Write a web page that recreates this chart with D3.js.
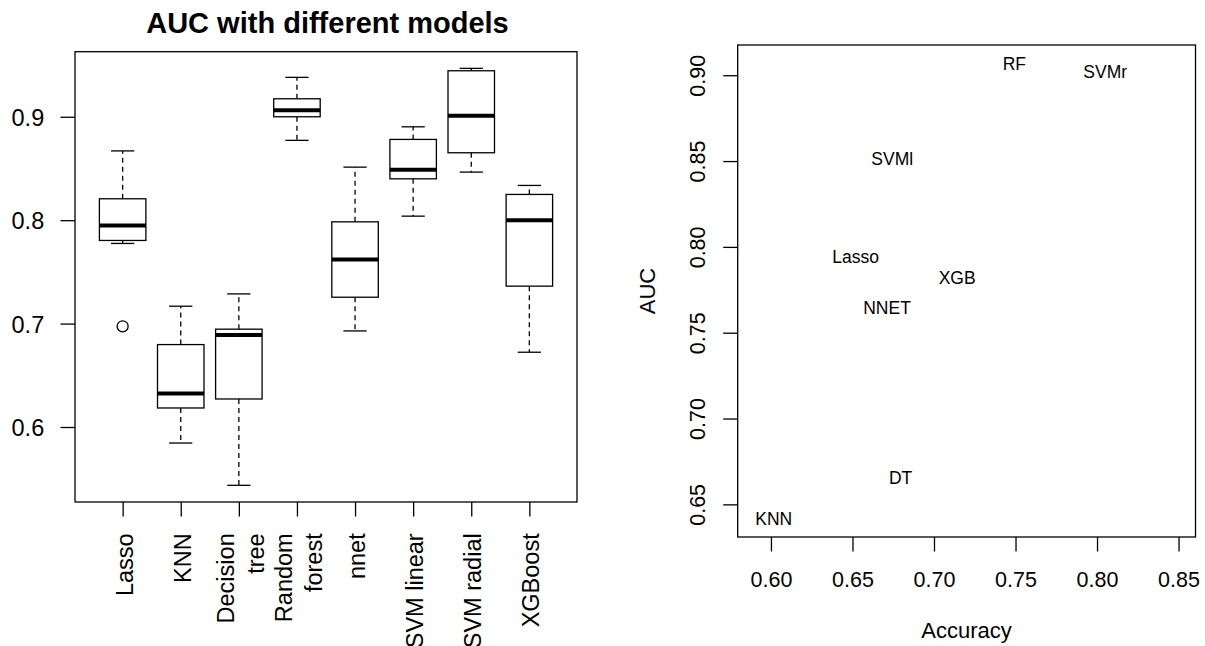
<!DOCTYPE html>
<html><head><meta charset="utf-8">
<script src="https://cdn.jsdelivr.net/npm/d3@7"></script>
<style>
body{margin:0;background:#fff}
svg{display:block}
text{font-family:"Liberation Sans",Arial,Helvetica,sans-serif;fill:#000}
</style>
</head><body>
<svg id="chart" width="1205" height="646"></svg>
<script>
// ---------- Left panel: boxplot data ----------
const models = ["Lasso","KNN","Decision\ntree","Random\nforest","nnet","SVM linear","SVM radial","XGBoost"];
const whiskerLow  = [0.7775, 0.5845, 0.5436, 0.8772, 0.6929, 0.8039, 0.8465, 0.6723];
const q1          = [0.7804, 0.6184, 0.6271, 0.9000, 0.7255, 0.8400, 0.8652, 0.7362];
const medians     = [0.7949, 0.6323, 0.6890, 0.9062, 0.7620, 0.8487, 0.9010, 0.8000];
const q3          = [0.8207, 0.6797, 0.6946, 0.9174, 0.7984, 0.8781, 0.9445, 0.8249];
const whiskerHigh = [0.8670, 0.7168, 0.7287, 0.9381, 0.8513, 0.8903, 0.9468, 0.8336];
const outlierModels = ["Lasso"];
const outlierValues = [0.6974];
const leftYTicks = [0.6, 0.7, 0.8, 0.9];
const leftTitle = "AUC with different models";

// ---------- Right panel: scatter labels ----------
const scatterLabels = ["KNN","Lasso","DT","NNET","SVMl","XGB","RF","SVMr"];
const accuracy = [0.6017, 0.6519, 0.6795, 0.6712, 0.6744, 0.7142, 0.7493, 0.8050];
const auc      = [0.6416, 0.7940, 0.6658, 0.7644, 0.8515, 0.7818, 0.9070, 0.9020];
const accuracyLimits = [0.59, 0.85];
const accuracyTicks = [0.60, 0.65, 0.70, 0.75, 0.80, 0.85];
const aucTicks = [0.65, 0.70, 0.75, 0.80, 0.85, 0.90];
const xLabelRight = "Accuracy";
const yLabelRight = "AUC";

// ---------- helpers ----------
const rExpand = ([a, b]) => { const d = (b - a) * 0.04; return [a - d, b + d]; };
const svg = d3.select("#chart");
const LW = 1.3;

// ================= LEFT PANEL =================
const L = {left: 75, right: 577, top: 51.7, bottom: 502};
const fsL = 23.5;
const xL = d3.scaleLinear().domain(rExpand([0.5, models.length + 0.5])).range([L.left, L.right]);
const yL = d3.scaleLinear()
  .domain(rExpand(d3.extent([...whiskerLow, ...whiskerHigh, ...outlierValues])))
  .range([L.bottom, L.top]);

const gL = svg.append("g");
const unit = xL(1) - xL(0);
const halfBox = 0.4 * unit, halfStaple = 0.2 * unit;

models.forEach((m, i) => {
  const cx = xL(i + 1);
  const g = gL.append("g");
  g.append("line").attr("x1", cx).attr("x2", cx).attr("y1", yL(q3[i])).attr("y2", yL(whiskerHigh[i]))
    .attr("stroke", "#000").attr("stroke-width", LW).attr("stroke-dasharray", "5,4");
  g.append("line").attr("x1", cx).attr("x2", cx).attr("y1", yL(q1[i])).attr("y2", yL(whiskerLow[i]))
    .attr("stroke", "#000").attr("stroke-width", LW).attr("stroke-dasharray", "5,4");
  [whiskerHigh[i], whiskerLow[i]].forEach(v => {
    g.append("line").attr("x1", cx - halfStaple).attr("x2", cx + halfStaple)
      .attr("y1", yL(v)).attr("y2", yL(v)).attr("stroke", "#000").attr("stroke-width", LW);
  });
  g.append("rect").attr("x", cx - halfBox).attr("width", 2 * halfBox)
    .attr("y", yL(q3[i])).attr("height", yL(q1[i]) - yL(q3[i]))
    .attr("fill", "#fff").attr("stroke", "#000").attr("stroke-width", LW);
  g.append("line").attr("x1", cx - halfBox).attr("x2", cx + halfBox)
    .attr("y1", yL(medians[i])).attr("y2", yL(medians[i]))
    .attr("stroke", "#000").attr("stroke-width", 4);
});

outlierModels.forEach((m, k) => {
  const i = models.indexOf(m);
  gL.append("circle").attr("cx", xL(i + 1)).attr("cy", yL(outlierValues[k])).attr("r", 5.5)
    .attr("fill", "none").attr("stroke", "#000").attr("stroke-width", LW);
});

gL.append("rect").attr("x", L.left).attr("y", L.top).attr("width", L.right - L.left).attr("height", L.bottom - L.top)
  .attr("fill", "none").attr("stroke", "#000").attr("stroke-width", LW);

const yAxL = gL.append("g").attr("transform", `translate(${L.left},0)`)
  .call(d3.axisLeft(yL).tickValues(leftYTicks).tickSize(14.5).tickFormat(d3.format(".1f")));
yAxL.select(".domain").remove();
yAxL.selectAll(".tick line").attr("stroke", "#000").attr("stroke-width", LW);
yAxL.selectAll(".tick text").attr("x", -(L.left - 44.2)).attr("dy", null).attr("y", 8.5)
  .attr("font-size", fsL).attr("font-family", '"Liberation Sans",Arial,sans-serif').attr("fill", "#000");

const xAxL = gL.append("g").attr("transform", `translate(0,${L.bottom})`)
  .call(d3.axisBottom(xL).tickValues(models.map((m, i) => i + 1)).tickSize(14.5).tickFormat(""));
xAxL.select(".domain").remove();
xAxL.selectAll(".tick line").attr("stroke", "#000").attr("stroke-width", LW);
xAxL.selectAll(".tick").each(function(d) {
  const lines = models[d - 1].split("\n");
  const lh = 29.4;
  const t = d3.select(this).append("text")
    .attr("transform", `translate(0,31.3) rotate(-90)`)
    .attr("text-anchor", "end").attr("font-size", fsL).attr("fill", "#000");
  lines.forEach((ln, j) => {
    const off = 9.5 + (j - (lines.length - 1) / 2) * lh;
    t.append("tspan").attr("x", 0).attr("y", off).text(ln);
  });
});

gL.append("text").attr("x", (L.left + L.right) / 2 + 1.5).attr("y", 33).attr("text-anchor", "middle")
  .attr("font-size", 29).attr("font-weight", "bold").text(leftTitle);

// ================= RIGHT PANEL =================
const R = {left: 737.7, right: 1195.5, top: 45, bottom: 537};
const fsR = 21.5;
const xR = d3.scaleLinear().domain(rExpand(accuracyLimits)).range([R.left, R.right]);
const yR = d3.scaleLinear().domain(rExpand(d3.extent(auc))).range([R.bottom, R.top]);
const gR = svg.append("g");

gR.append("rect").attr("x", R.left).attr("y", R.top).attr("width", R.right - R.left).attr("height", R.bottom - R.top)
  .attr("fill", "none").attr("stroke", "#000").attr("stroke-width", LW);

const xAxR = gR.append("g").attr("transform", `translate(0,${R.bottom})`)
  .call(d3.axisBottom(xR).tickValues(accuracyTicks).tickSize(14.5).tickFormat(d3.format(".2f")));
xAxR.select(".domain").remove();
xAxR.selectAll(".tick line").attr("stroke", "#000").attr("stroke-width", LW);
xAxR.selectAll(".tick text").attr("y", 49.7).attr("dy", null).attr("font-size", fsR)
  .attr("font-family", '"Liberation Sans",Arial,sans-serif').attr("fill", "#000");

const yAxR = gR.append("g").attr("transform", `translate(${R.left},0)`)
  .call(d3.axisLeft(yR).tickValues(aucTicks).tickSize(14.5).tickFormat(d3.format(".2f")));
yAxR.select(".domain").remove();
yAxR.selectAll(".tick line").attr("stroke", "#000").attr("stroke-width", LW);
yAxR.selectAll(".tick text").attr("x", null).attr("y", null).attr("dy", null)
  .attr("transform", `translate(${705 - R.left},0) rotate(-90)`).attr("text-anchor", "middle")
  .attr("font-size", fsR).attr("font-family", '"Liberation Sans",Arial,sans-serif').attr("fill", "#000");

gR.append("text").attr("x", (R.left + R.right) / 2).attr("y", 638).attr("text-anchor", "middle")
  .attr("font-size", 22).text(xLabelRight);
gR.append("text").attr("transform", `translate(654.5,${(R.top + R.bottom) / 2}) rotate(-90)`)
  .attr("text-anchor", "middle").attr("font-size", 22).text(yLabelRight);

gR.selectAll("text.pt").data(scatterLabels).enter().append("text").attr("class", "pt")
  .attr("x", (d, i) => xR(accuracy[i])).attr("y", (d, i) => yR(auc[i]) + 6.3)
  .attr("text-anchor", "middle").attr("font-size", 17.5).text(d => d);
</script>
</body></html>
